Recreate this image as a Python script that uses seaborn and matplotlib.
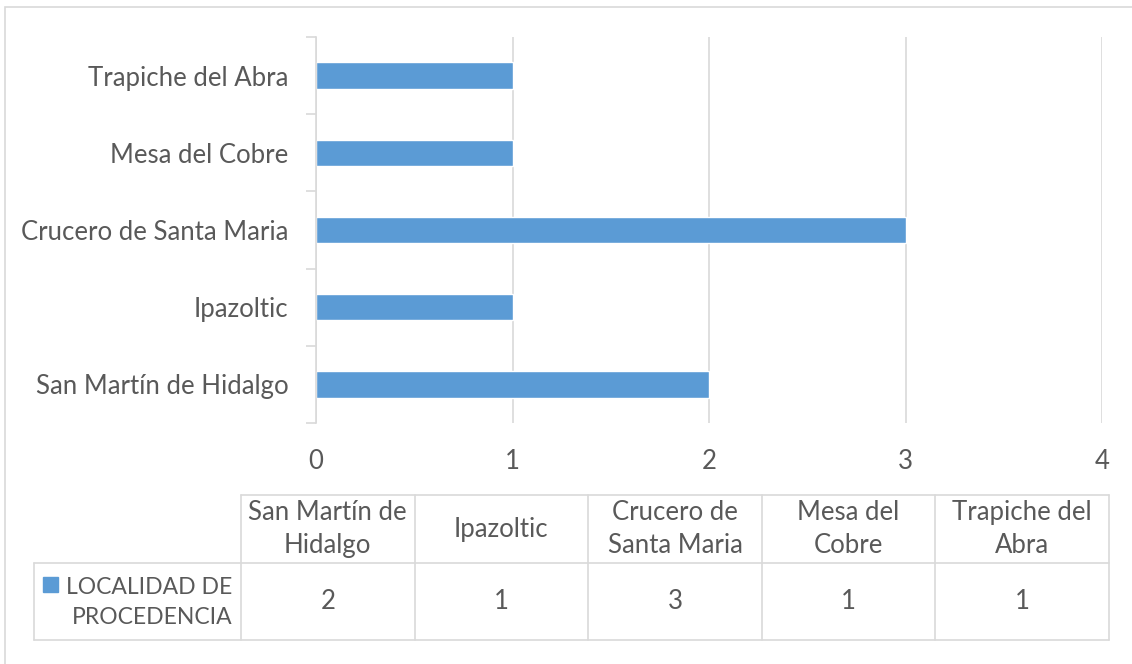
import matplotlib
matplotlib.use("Agg")
import matplotlib.pyplot as plt
import seaborn as sns
import pandas as pd
from matplotlib.patches import Rectangle
from matplotlib.lines import Line2D

# ---- data ----
categories = ["San Martín de Hidalgo", "Ipazoltic", "Crucero de Santa Maria",
              "Mesa del Cobre", "Trapiche del Abra"]
table_headers = ["San Martín de\nHidalgo", "Ipazoltic", "Crucero de\nSanta Maria",
                 "Mesa del\nCobre", "Trapiche del\nAbra"]
values = [2, 1, 3, 1, 1]
series_name = "LOCALIDAD DE\nPROCEDENCIA"
x_ticks = [0, 1, 2, 3, 4]

BAR = "#5b9bd5"
GRID = "#d9d9d9"
TXT = "#595959"
FONT = ["Lato", "DejaVu Sans"]
FS = 18.5

sns.set_theme(style="white")
plt.rcParams["font.family"] = FONT

W, H = 1132, 664
fig = plt.figure(figsize=(W / 100, H / 100), dpi=100)

def fx(px):
    return px / W

def fy(py):
    return 1 - py / H

# outer border
fig.patches.append(Rectangle((fx(5), fy(700)), fx(1200), (700 - 7) / H,
                             transform=fig.transFigure, fill=False,
                             edgecolor=GRID, linewidth=1.2))

# ---- bar chart ----
ax = fig.add_axes([fx(316), fy(423), fx(1102) - fx(316), (423 - 37) / H])
df = pd.DataFrame({"cat": categories, "val": values})
order = categories[::-1]
sns.barplot(data=df, y="cat", x="val", order=order, orient="h",
            color=BAR, saturation=1, width=0.34, ax=ax)
ax.set_xlim(0, 4)
ax.set_ylim(len(order) - 0.5, -0.5)
ax.set_xticks(x_ticks)
ax.set_xticklabels([str(t) for t in x_ticks])
ax.set_xlabel("")
ax.set_ylabel("")
for s in ["top", "right", "bottom"]:
    ax.spines[s].set_visible(False)
ax.spines["left"].set_color(GRID)
ax.spines["left"].set_linewidth(1.2)
ax.grid(axis="x", color=GRID, linewidth=1.2)
ax.set_axisbelow(True)
ax.tick_params(axis="x", length=0, pad=19, labelsize=FS, labelcolor=TXT)
ax.tick_params(axis="y", which="major", length=0, pad=20, labelsize=FS, labelcolor=TXT)
ax.set_yticks([i - 0.5 for i in range(len(order) + 1)], minor=True)
ax.tick_params(axis="y", which="minor", length=7, width=1.2, color=GRID, left=True)

# ---- data table ----
tx0, tx1 = 34, 1109      # left / right px
hx = 241                 # start of value columns
ty0, ty1, ty2 = 495, 563, 640
tab = fig.add_axes([0, 0, 1, 1], facecolor="none")
tab.set_xlim(0, W)
tab.set_ylim(H, 0)
tab.axis("off")
colw = (tx1 - hx) / len(categories)
lw = 1.2
tab.add_line(Line2D([hx, tx1], [ty0, ty0], color=GRID, lw=lw))
tab.add_line(Line2D([tx0, tx1], [ty1, ty1], color=GRID, lw=lw))
tab.add_line(Line2D([tx0, tx1], [ty2, ty2], color=GRID, lw=lw))
tab.add_line(Line2D([tx0, tx0], [ty1, ty2], color=GRID, lw=lw))
for i in range(len(categories) + 1):
    xx = hx + i * colw
    tab.add_line(Line2D([xx, xx], [ty0, ty2], color=GRID, lw=lw))
for i, (h, v) in enumerate(zip(table_headers, values)):
    cx = hx + (i + 0.5) * colw
    tab.text(cx, (ty0 + ty1) / 2, h, ha="center", va="center", fontsize=FS,
             color=TXT, linespacing=1.4)
    tab.text(cx, (ty1 + ty2) / 2, str(v), ha="center", va="center", fontsize=FS,
             color=TXT)
tab.add_patch(Rectangle((43, 577), 15, 15, color=BAR))
tab.text(232, (ty1 + ty2) / 2 + 1, series_name, ha="right", va="center", fontsize=16.5,
         color=TXT, linespacing=1.55)

fig.savefig("out.png", dpi=100)
